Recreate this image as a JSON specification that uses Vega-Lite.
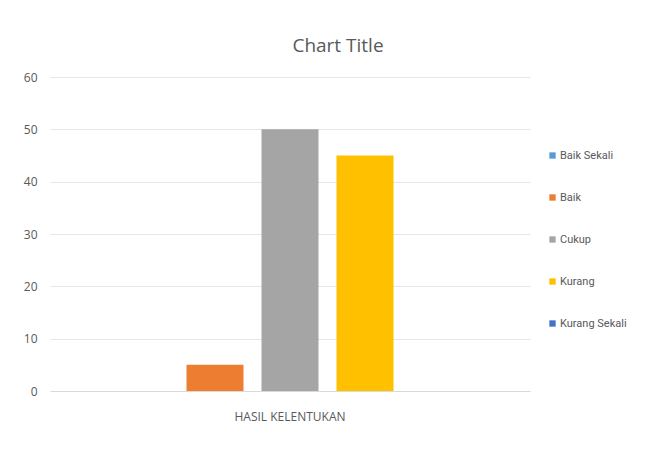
{
  "$schema": "https://vega.github.io/schema/vega-lite/v6.json",
  "autosize": {"type": "none"},
  "width": 480,
  "height": 314,
  "padding": {"left": 50, "top": 77, "right": 133, "bottom": 80},
  "background": "white",
  "title": {
    "text": "Chart Title",
    "font": "Open Sans",
    "fontSize": 19,
    "fontWeight": "normal",
    "color": "#595959",
    "anchor": "middle",
    "dx": 48,
    "offset": 15
  },
  "data": {
    "values": [
      {"kategori": "HASIL KELENTUKAN", "seri": "Baik Sekali", "nilai": 0},
      {"kategori": "HASIL KELENTUKAN", "seri": "Baik", "nilai": 5},
      {"kategori": "HASIL KELENTUKAN", "seri": "Cukup", "nilai": 50},
      {"kategori": "HASIL KELENTUKAN", "seri": "Kurang", "nilai": 45},
      {"kategori": "HASIL KELENTUKAN", "seri": "Kurang Sekali", "nilai": 0}
    ]
  },
  "mark": {"type": "bar"},
  "encoding": {
    "x": {
      "field": "kategori",
      "type": "nominal",
      "scale": {"paddingInner": 0, "paddingOuter": 0.14},
      "axis": {
        "title": null,
        "labelAngle": 0,
        "labelFont": "Open Sans",
        "labelFontSize": 12,
        "labelColor": "#595959",
        "ticks": false,
        "domainColor": "#d9d9d9",
        "labelPadding": 20
      }
    },
    "xOffset": {
      "field": "seri",
      "type": "nominal",
      "sort": ["Baik Sekali", "Baik", "Cukup", "Kurang", "Kurang Sekali"],
      "scale": {"paddingInner": 0.24, "paddingOuter": 0.12}
    },
    "y": {
      "field": "nilai",
      "type": "quantitative",
      "scale": {"domain": [0, 60], "nice": false},
      "axis": {
        "title": null,
        "values": [0, 10, 20, 30, 40, 50, 60],
        "labelOverlap": false,
        "domain": false,
        "ticks": false,
        "gridColor": "#e6e6e6",
        "labelFont": "Open Sans",
        "labelFontSize": 12,
        "labelColor": "#595959",
        "labelPadding": 13
      }
    },
    "color": {
      "field": "seri",
      "type": "nominal",
      "sort": ["Baik Sekali", "Baik", "Cukup", "Kurang", "Kurang Sekali"],
      "scale": {
        "domain": ["Baik Sekali", "Baik", "Cukup", "Kurang", "Kurang Sekali"],
        "range": ["#5b9bd5", "#ed7d31", "#a5a5a5", "#ffc000", "#4472c4"]
      },
      "legend": {
        "title": null,
        "orient": "none",
        "legendX": 497,
        "legendY": 73,
        "symbolType": "square",
        "symbolSize": 40,
        "symbolStrokeWidth": 0,
        "labelFont": "Roboto",
        "labelFontSize": 11,
        "labelColor": "#595959",
        "rowPadding": 30,
        "labelOffset": 2
      }
    }
  },
  "config": {"view": {"stroke": null}}
}
